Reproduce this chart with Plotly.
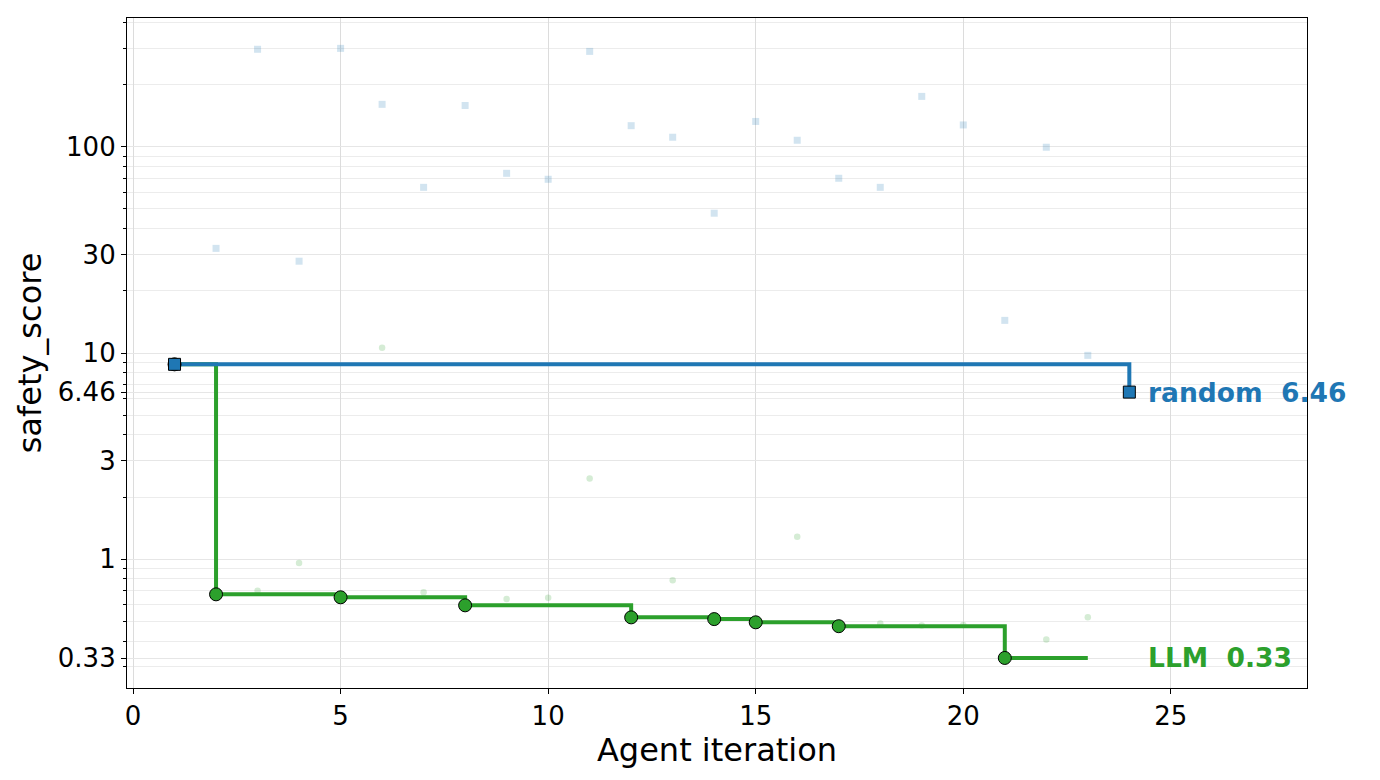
import numpy as np
import plotly.graph_objects as go

# ---- data ----
random_iter = list(range(1, 25))
random_vals = [8.81, 32.2, 298, 27.9, 301, 161, 63.7, 159, 74.5, 69.7, 291, 126.9,
               111.5, 47.7, 133, 107.8, 70.5, 63.7, 176, 127.9, 14.4, 99.7, 9.74, 6.46]

llm_iter = list(range(1, 24))
llm_vals = [8.81, 0.674, 0.702, 0.956, 0.652, 10.6, 0.689, 0.596, 0.639, 0.649, 2.46,
            0.521, 0.788, 0.511, 0.493, 1.283, 0.472, 0.487, 0.476, 0.478, 0.331, 0.407, 0.521]

y_tickvals = [0.33, 1, 3, 6.46, 10, 30, 100]
y_ticktext = ["0.33", "1", "3", "6.46", "10", "30", "100"]

BLUE = "#1f77b4"
GREEN = "#2ca02c"
FONT = "DejaVu Sans"


def best_so_far(vals):
    return list(np.minimum.accumulate(np.array(vals, dtype=float)))


def improvements(xs, vals):
    bx, by = [], []
    cur = np.inf
    for x, v in zip(xs, vals):
        if v < cur:
            cur = v
            bx.append(x)
            by.append(v)
    return bx, by


r_best = best_so_far(random_vals)
l_best = best_so_far(llm_vals)
r_ix, r_iy = improvements(random_iter, random_vals)
l_ix, l_iy = improvements(llm_iter, llm_vals)

fig = go.Figure()

# faint all-trial points
fig.add_trace(go.Scatter(x=random_iter, y=random_vals, mode="markers",
                         marker=dict(symbol="square", size=7, color="rgba(31,119,180,0.2)"),
                         showlegend=False, hoverinfo="skip"))
fig.add_trace(go.Scatter(x=llm_iter, y=llm_vals, mode="markers",
                         marker=dict(symbol="circle", size=6.5, color="rgba(44,160,44,0.2)"),
                         showlegend=False, hoverinfo="skip"))

# step lines
fig.add_trace(go.Scatter(x=llm_iter, y=l_best, mode="lines",
                         line=dict(color=GREEN, width=4, shape="hv"),
                         showlegend=False, hoverinfo="skip"))
fig.add_trace(go.Scatter(x=random_iter, y=r_best, mode="lines",
                         line=dict(color=BLUE, width=4, shape="hv"),
                         showlegend=False, hoverinfo="skip"))

# improvement markers
fig.add_trace(go.Scatter(x=l_ix, y=l_iy, mode="markers",
                         marker=dict(symbol="circle", size=13, color=GREEN,
                                     line=dict(color="black", width=1)),
                         showlegend=False))
fig.add_trace(go.Scatter(x=r_ix, y=r_iy, mode="markers",
                         marker=dict(symbol="square", size=12, color=BLUE,
                                     line=dict(color="black", width=1)),
                         showlegend=False))

# end labels
label_x = 24.4
fig.add_annotation(x=label_x, y=np.log10(r_best[-1]), xref="x", yref="y",
                   text="<b>random\u00a0\u00a0%.2f</b>" % r_best[-1], showarrow=False,
                   xanchor="left", yanchor="middle",
                   font=dict(family=FONT, size=26.5, color=BLUE))
fig.add_annotation(x=label_x, y=np.log10(l_best[-1]), xref="x", yref="y",
                   text="<b>LLM\u00a0\u00a0%.2f</b>" % l_best[-1], showarrow=False,
                   xanchor="left", yanchor="middle",
                   font=dict(family=FONT, size=26.5, color=GREEN))

minor_vals = [k * 10.0 ** e for e in range(-1, 3) for k in range(1, 10)]
minor_vals = [v for v in minor_vals if 0.23 <= v <= 430]

fig.update_layout(
    width=1380, height=780,
    margin=dict(l=127, r=73, t=18, b=92),
    paper_bgcolor="white", plot_bgcolor="white",
    font=dict(family=FONT, color="black"),
    xaxis=dict(
        range=[-0.145, 28.28], tickmode="linear", tick0=0, dtick=5,
        showline=True, linecolor="black", linewidth=1.2, mirror=True,
        ticks="outside", ticklen=5, tickwidth=1.2, tickcolor="black",
        showgrid=True, gridcolor="#dcdcdc", gridwidth=1, zeroline=False,
        tickfont=dict(family=FONT, size=26, color="black"),
        title=dict(text="Agent iteration", font=dict(family=FONT, size=32, color="black"),
                   standoff=2),
    ),
    yaxis=dict(
        type="log", range=[-0.626, 2.626],
        tickmode="array", tickvals=y_tickvals, ticktext=y_ticktext,
        showline=True, linecolor="black", linewidth=1.2, mirror=True,
        ticks="outside", ticklen=5, tickwidth=1.2, tickcolor="black",
        showgrid=True, gridcolor="#e6e6e6", gridwidth=1, zeroline=False,
        tickfont=dict(family=FONT, size=26, color="black"),
        title=dict(text="safety_score", font=dict(family=FONT, size=32, color="black"),
                   standoff=6),
        minor=dict(tickmode="array", tickvals=minor_vals, ticks="outside", ticklen=3,
                   tickwidth=1, tickcolor="black", showgrid=True,
                   gridcolor="#ececec", gridwidth=1),
    ),
)

fig.write_html("out.html")
